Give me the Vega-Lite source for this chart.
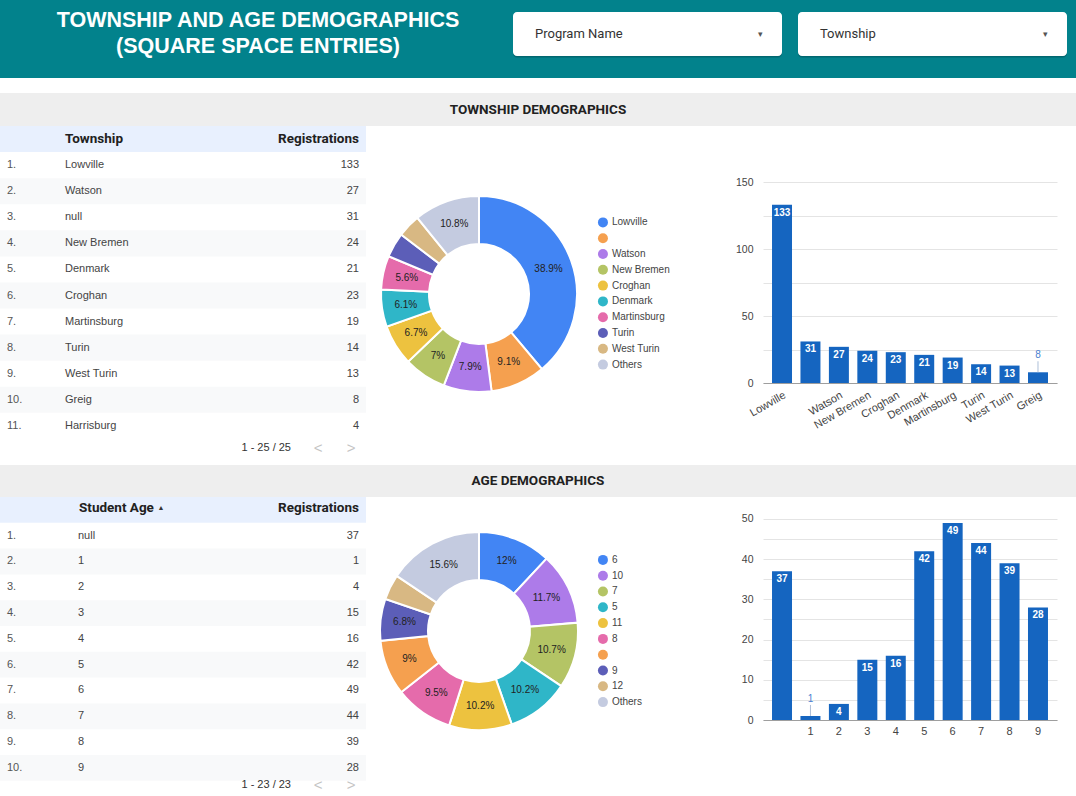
{
  "$schema": "https://vega.github.io/schema/vega-lite/v6.json",
  "padding": 0,
  "background": "white",
  "spacing": 15,
  "bounds": "full",
  "config": {
    "view": {"stroke": null},
    "font": "Liberation Sans",
    "axis": {"labelFont": "Liberation Sans", "labelColor": "#444444"}
  },
  "resolve": {"scale": {"color": "independent", "theta": "independent"}},
  "datasets": {
    "townTable": [
      {"rank": 1, "no": "1.", "Township": "Lowville", "Registrations": 133},
      {"rank": 2, "no": "2.", "Township": "Watson", "Registrations": 27},
      {"rank": 3, "no": "3.", "Township": "null", "Registrations": 31},
      {"rank": 4, "no": "4.", "Township": "New Bremen", "Registrations": 24},
      {"rank": 5, "no": "5.", "Township": "Denmark", "Registrations": 21},
      {"rank": 6, "no": "6.", "Township": "Croghan", "Registrations": 23},
      {"rank": 7, "no": "7.", "Township": "Martinsburg", "Registrations": 19},
      {"rank": 8, "no": "8.", "Township": "Turin", "Registrations": 14},
      {"rank": 9, "no": "9.", "Township": "West Turin", "Registrations": 13},
      {"rank": 10, "no": "10.", "Township": "Greig", "Registrations": 8},
      {"rank": 11, "no": "11.", "Township": "Harrisburg", "Registrations": 4}
    ],
    "townDonut": [
      {"ord": 1, "Township": "Lowville", "Registrations": 133, "share": "38.9%"},
      {"ord": 2, "Township": "", "Registrations": 31, "share": "9.1%"},
      {"ord": 3, "Township": "Watson", "Registrations": 27, "share": "7.9%"},
      {"ord": 4, "Township": "New Bremen", "Registrations": 24, "share": "7%"},
      {"ord": 5, "Township": "Croghan", "Registrations": 23, "share": "6.7%"},
      {"ord": 6, "Township": "Denmark", "Registrations": 21, "share": "6.1%"},
      {"ord": 7, "Township": "Martinsburg", "Registrations": 19, "share": "5.6%"},
      {"ord": 8, "Township": "Turin", "Registrations": 14, "share": ""},
      {"ord": 9, "Township": "West Turin", "Registrations": 13, "share": ""},
      {"ord": 10, "Township": "Others", "Registrations": 37, "share": "10.8%"}
    ],
    "townBars": [
      {"Township": "Lowville", "Registrations": 133},
      {"Township": "", "Registrations": 31},
      {"Township": "Watson", "Registrations": 27},
      {"Township": "New Bremen", "Registrations": 24},
      {"Township": "Croghan", "Registrations": 23},
      {"Township": "Denmark", "Registrations": 21},
      {"Township": "Martinsburg", "Registrations": 19},
      {"Township": "Turin", "Registrations": 14},
      {"Township": "West Turin", "Registrations": 13},
      {"Township": "Greig", "Registrations": 8}
    ],
    "ageTable": [
      {"rank": 1, "no": "1.", "Age": "null", "Registrations": 37},
      {"rank": 2, "no": "2.", "Age": "1", "Registrations": 1},
      {"rank": 3, "no": "3.", "Age": "2", "Registrations": 4},
      {"rank": 4, "no": "4.", "Age": "3", "Registrations": 15},
      {"rank": 5, "no": "5.", "Age": "4", "Registrations": 16},
      {"rank": 6, "no": "6.", "Age": "5", "Registrations": 42},
      {"rank": 7, "no": "7.", "Age": "6", "Registrations": 49},
      {"rank": 8, "no": "8.", "Age": "7", "Registrations": 44},
      {"rank": 9, "no": "9.", "Age": "8", "Registrations": 39},
      {"rank": 10, "no": "10.", "Age": "9", "Registrations": 28}
    ],
    "ageDonut": [
      {"ord": 1, "Age": "6", "Registrations": 49, "share": "12%"},
      {"ord": 2, "Age": "10", "Registrations": 48, "share": "11.7%"},
      {"ord": 3, "Age": "7", "Registrations": 44, "share": "10.7%"},
      {"ord": 4, "Age": "5", "Registrations": 42, "share": "10.2%"},
      {"ord": 5, "Age": "11", "Registrations": 42, "share": "10.2%"},
      {"ord": 6, "Age": "8", "Registrations": 39, "share": "9.5%"},
      {"ord": 7, "Age": "", "Registrations": 37, "share": "9%"},
      {"ord": 8, "Age": "9", "Registrations": 28, "share": "6.8%"},
      {"ord": 9, "Age": "12", "Registrations": 17, "share": ""},
      {"ord": 10, "Age": "Others", "Registrations": 64, "share": "15.6%"}
    ],
    "ageBars": [
      {"Age": "", "Registrations": 37},
      {"Age": "1", "Registrations": 1},
      {"Age": "2", "Registrations": 4},
      {"Age": "3", "Registrations": 15},
      {"Age": "4", "Registrations": 16},
      {"Age": "5", "Registrations": 42},
      {"Age": "6", "Registrations": 49},
      {"Age": "7", "Registrations": 44},
      {"Age": "8", "Registrations": 39},
      {"Age": "9", "Registrations": 28}
    ],
    "header": [
      {"title": ["TOWNSHIP AND AGE DEMOGRAPHICS", "(SQUARE SPACE ENTRIES)"]}
    ],
    "filters": [
      {"filter": "Program Name", "kind": "dropdown"},
      {"filter": "Township", "kind": "dropdown"}
    ]
  },
  "vconcat": [
    {
      "hconcat": [
        {
          "width": 510,
          "height": 78,
          "view": {"fill": "#02828c", "stroke": null},
          "data": {"name": "header"},
          "mark": {"type": "text", "font": "Liberation Sans", "fontWeight": "bold", "fontSize": 21.5, "lineHeight": 26, "color": "white", "align": "center", "baseline": "middle", "dx": 3, "dy": -18},
          "encoding": {"text": {"field": "title"}}
        },
        {
          "width": 566,
          "height": 78,
          "view": {"fill": "#02828c", "stroke": null},
          "data": {"name": "filters"},
          "encoding": {
            "x": {"field": "filter", "type": "nominal", "sort": null, "scale": {"type": "band", "paddingInner": 0.0561, "paddingOuter": 0.02105, "align": 0.25}, "axis": null},
            "y": {"field": "kind", "type": "nominal", "scale": {"type": "band", "paddingInner": 0, "paddingOuter": 0.3864, "align": 0.353}, "axis": null}
          },
          "layer": [
            {"mark": {"type": "rect", "fill": "#00363b", "opacity": 0.35, "cornerRadius": 4, "yOffset": 1.5}},
            {"mark": {"type": "rect", "fill": "white", "cornerRadius": 4}},
            {
              "mark": {"type": "text", "align": "left", "baseline": "middle", "dx": 22, "font": "Roboto", "fontSize": 13, "color": "#333333"},
              "encoding": {
                "x": {"field": "filter", "type": "nominal", "sort": null, "bandPosition": 0, "axis": null},
                "text": {"field": "filter"}
              }
            },
            {
              "mark": {"type": "text", "align": "center", "baseline": "middle", "dx": -22, "fontSize": 9, "color": "#555555"},
              "encoding": {
                "x": {"field": "filter", "type": "nominal", "sort": null, "bandPosition": 1, "axis": null},
                "text": {"value": "▾"}
              }
            }
          ]
        }
      ],
      "spacing": 0,
      "bounds": "flush"
    },
    {
      "spacing": 0,
      "bounds": "full",
      "resolve": {"scale": {"color": "independent", "theta": "independent"}},
      "vconcat": [
        {
          "width": 1076,
          "height": 33,
          "view": {"fill": "#eeeeee", "stroke": null},
          "data": {"values": [{"section": "TOWNSHIP DEMOGRAPHICS"}]},
          "mark": {"type": "text", "font": "Roboto", "fontWeight": "bold", "fontSize": 13.5, "color": "#212121", "baseline": "middle"},
          "encoding": {"text": {"field": "section"}}
        },
        {
          "hconcat": [
            {
              "width": 366,
              "height": 339,
              "data": {"name": "townTable"},
              "encoding": {
                "y": {"field": "no", "type": "ordinal", "scale": {"type": "band", "domain": ["hdr", "1.", "2.", "3.", "4.", "5.", "6.", "7.", "8.", "9.", "10.", "11.", "pager"], "paddingInner": 0, "paddingOuter": 0}, "axis": null}
              },
              "layer": [
                {
                  "transform": [{"aggregate": [{"op": "count", "as": "n"}]}],
                  "mark": {"type": "rect", "fill": "#e8f0fe"},
                  "encoding": {"y": {"datum": "hdr", "type": "ordinal", "axis": null}}
                },
                {
                  "transform": [{"filter": "datum.rank % 2 === 0"}],
                  "mark": {"type": "rect", "fill": "#f8f9fa"}
                },
                {
                  "mark": {"type": "text", "align": "left", "baseline": "middle", "dx": 7, "fontSize": 11, "color": "#555555"},
                  "encoding": {
                    "x": {"datum": "L", "type": "nominal", "scale": {"type": "point", "domain": ["L", "R"], "padding": 0}, "axis": null},
                    "text": {"field": "no"}
                  }
                },
                {
                  "mark": {"type": "text", "align": "left", "baseline": "middle", "dx": 65, "fontSize": 11, "color": "#444444"},
                  "encoding": {
                    "x": {"datum": "L", "type": "nominal", "scale": {"type": "point", "domain": ["L", "R"], "padding": 0}, "axis": null},
                    "text": {"field": "Township"}
                  }
                },
                {
                  "mark": {"type": "text", "align": "right", "baseline": "middle", "dx": -7, "fontSize": 11, "color": "#444444"},
                  "encoding": {
                    "x": {"datum": "R", "type": "nominal", "scale": {"type": "point", "domain": ["L", "R"], "padding": 0}, "axis": null},
                    "text": {"field": "Registrations", "type": "quantitative"}
                  }
                },
                {
                  "transform": [{"aggregate": [{"op": "count", "as": "n"}]}],
                  "mark": {"type": "text", "align": "left", "baseline": "middle", "dx": 65, "font": "Roboto", "fontWeight": "bold", "fontSize": 13.5, "color": "#212121"},
                  "encoding": {
                    "x": {"datum": "L", "type": "nominal", "scale": {"type": "point", "domain": ["L", "R"], "padding": 0}, "axis": null},
                    "y": {"datum": "hdr", "type": "ordinal", "axis": null},
                    "text": {"value": "Township"}
                  }
                },
                {
                  "transform": [{"aggregate": [{"op": "count", "as": "n"}]}],
                  "mark": {"type": "text", "align": "right", "baseline": "middle", "dx": -7, "font": "Roboto", "fontWeight": "bold", "fontSize": 13.5, "color": "#212121"},
                  "encoding": {
                    "x": {"datum": "R", "type": "nominal", "scale": {"type": "point", "domain": ["L", "R"], "padding": 0}, "axis": null},
                    "y": {"datum": "hdr", "type": "ordinal", "axis": null},
                    "text": {"value": "Registrations"}
                  }
                },
                {
                  "transform": [{"aggregate": [{"op": "count", "as": "n"}]}],
                  "mark": {"type": "text", "align": "right", "baseline": "middle", "dx": -75, "dy": -4, "fontSize": 11, "color": "#333333"},
                  "encoding": {
                    "x": {"datum": "R", "type": "nominal", "scale": {"type": "point", "domain": ["L", "R"], "padding": 0}, "axis": null},
                    "y": {"datum": "pager", "type": "ordinal", "axis": null},
                    "text": {"value": "1 - 25 / 25"}
                  }
                },
                {
                  "transform": [{"aggregate": [{"op": "count", "as": "n"}]}],
                  "mark": {"type": "text", "align": "center", "baseline": "middle", "dx": -48, "dy": -4, "fontSize": 15, "color": "#c4c4c4"},
                  "encoding": {
                    "x": {"datum": "R", "type": "nominal", "scale": {"type": "point", "domain": ["L", "R"], "padding": 0}, "axis": null},
                    "y": {"datum": "pager", "type": "ordinal", "axis": null},
                    "text": {"value": "<"}
                  }
                },
                {
                  "transform": [{"aggregate": [{"op": "count", "as": "n"}]}],
                  "mark": {"type": "text", "align": "center", "baseline": "middle", "dx": -15, "dy": -4, "fontSize": 15, "color": "#c4c4c4"},
                  "encoding": {
                    "x": {"datum": "R", "type": "nominal", "scale": {"type": "point", "domain": ["L", "R"], "padding": 0}, "axis": null},
                    "y": {"datum": "pager", "type": "ordinal", "axis": null},
                    "text": {"value": ">"}
                  }
                }
              ]
            },
            {
              "width": 226,
              "height": 336,
              "data": {"name": "townDonut"},
              "encoding": {
                "theta": {"field": "Registrations", "type": "quantitative", "stack": true},
                "order": {"field": "ord", "type": "quantitative"}
              },
              "layer": [
                {
                  "mark": {"type": "arc", "innerRadius": 50, "outerRadius": 98, "stroke": "white", "strokeWidth": 2},
                  "encoding": {
                    "color": {"field": "Township", "type": "nominal", "scale": {"domain": ["Lowville", "", "Watson", "New Bremen", "Croghan", "Denmark", "Martinsburg", "Turin", "West Turin", "Others"], "range": ["#4285f4", "#f5a04f", "#ad7be9", "#b4c465", "#edc23f", "#2fb6c8", "#e56bab", "#5c5eb8", "#d8b883", "#c4cbe0"]}, "legend": null}
                  }
                },
                {
                  "mark": {"type": "text", "radius": 74, "fontSize": 10, "color": "#222222"},
                  "encoding": {"text": {"field": "share"}}
                }
              ]
            },
            {
              "width": 171,
              "height": 335,
              "data": {"name": "townDonut"},
              "encoding": {
                "x": {"datum": "sym", "type": "nominal", "scale": {"type": "point", "domain": ["sym"], "padding": 0, "align": 0.064}, "axis": null},
                "y": {"field": "ord", "type": "quantitative", "scale": {"domain": [-5.1, 16.1], "reverse": true, "nice": false, "zero": false}, "axis": null}
              },
              "layer": [
                {
                  "mark": {"type": "point", "filled": true, "shape": "circle", "size": 100, "opacity": 1},
                  "encoding": {
                    "color": {"field": "Township", "type": "nominal", "scale": {"domain": ["Lowville", "", "Watson", "New Bremen", "Croghan", "Denmark", "Martinsburg", "Turin", "West Turin", "Others"], "range": ["#4285f4", "#f5a04f", "#ad7be9", "#b4c465", "#edc23f", "#2fb6c8", "#e56bab", "#5c5eb8", "#d8b883", "#c4cbe0"]}, "legend": null}
                  }
                },
                {
                  "mark": {"type": "text", "align": "left", "baseline": "middle", "dx": 9, "fontSize": 10, "color": "#444444"},
                  "encoding": {"text": {"field": "Township"}}
                }
              ]
            },
            {
              "width": 294,
              "height": 257,
              "data": {"name": "townBars"},
              "encoding": {
                "x": {"field": "Township", "type": "nominal", "scale": {"type": "band", "domain": ["Lowville", "", "Watson", "New Bremen", "Croghan", "Denmark", "Martinsburg", "Turin", "West Turin", "Greig"], "paddingInner": 0.297, "paddingOuter": 0.317}, "axis": {"title": null, "labelAngle": -30, "labelAlign": "right", "labelBaseline": "top", "ticks": false, "domainColor": "#9e9e9e", "labelPadding": 6, "labelFontSize": 11, "labelOverlap": false}},
                "y": {"field": "Registrations", "type": "quantitative", "scale": {"domain": [0, 191.8], "nice": false}, "axis": {"title": null, "values": [0, 25, 50, 75, 100, 125, 150], "labelExpr": "datum.value % 50 === 0 ? datum.label : ''", "domain": false, "ticks": false, "gridColor": "#e4e4e4", "labelPadding": 10, "labelFontSize": 10.5, "labelOverlap": false}}
              },
              "layer": [
                {"mark": {"type": "bar", "color": "#1565c0"}},
                {
                  "transform": [{"filter": "datum.Registrations >= 10"}],
                  "mark": {"type": "text", "baseline": "top", "dy": 3, "color": "white", "fontWeight": "bold", "fontSize": 10},
                  "encoding": {"text": {"field": "Registrations", "type": "quantitative"}}
                },
                {
                  "transform": [{"filter": "datum.Registrations < 10"}],
                  "mark": {"type": "rule", "color": "#aebfd8", "y2Offset": -11},
                  "encoding": {"y2": {"field": "Registrations"}}
                },
                {
                  "transform": [{"filter": "datum.Registrations < 10"}],
                  "mark": {"type": "text", "baseline": "bottom", "dy": -12, "color": "#4a7fd0", "fontSize": 10},
                  "encoding": {"text": {"field": "Registrations", "type": "quantitative"}}
                }
              ]
            }
          ],
          "spacing": 0,
          "bounds": "flush",
          "resolve": {"scale": {"color": "independent", "theta": "independent"}}
        },
        {
          "width": 1076,
          "height": 32,
          "view": {"fill": "#eeeeee", "stroke": null},
          "data": {"values": [{"section": "AGE DEMOGRAPHICS"}]},
          "mark": {"type": "text", "font": "Roboto", "fontWeight": "bold", "fontSize": 13.5, "color": "#212121", "baseline": "middle"},
          "encoding": {"text": {"field": "section"}}
        },
        {
          "hconcat": [
            {
              "width": 366,
              "height": 299,
              "data": {"name": "ageTable"},
              "encoding": {
                "y": {"field": "no", "type": "ordinal", "scale": {"type": "band", "domain": ["hdr", "1.", "2.", "3.", "4.", "5.", "6.", "7.", "8.", "9.", "10."], "paddingInner": 0, "paddingOuter": 0.2946, "align": 0}, "axis": null}
              },
              "layer": [
                {
                  "transform": [{"aggregate": [{"op": "count", "as": "n"}]}],
                  "mark": {"type": "rect", "fill": "#e8f0fe"},
                  "encoding": {"y": {"datum": "hdr", "type": "ordinal", "axis": null}}
                },
                {
                  "transform": [{"filter": "datum.rank % 2 === 0"}],
                  "mark": {"type": "rect", "fill": "#f8f9fa"}
                },
                {
                  "mark": {"type": "text", "align": "left", "baseline": "middle", "dx": 7, "fontSize": 11, "color": "#555555"},
                  "encoding": {
                    "x": {"datum": "L", "type": "nominal", "scale": {"type": "point", "domain": ["L", "R"], "padding": 0}, "axis": null},
                    "text": {"field": "no"}
                  }
                },
                {
                  "mark": {"type": "text", "align": "left", "baseline": "middle", "dx": 78, "fontSize": 11, "color": "#444444"},
                  "encoding": {
                    "x": {"datum": "L", "type": "nominal", "scale": {"type": "point", "domain": ["L", "R"], "padding": 0}, "axis": null},
                    "text": {"field": "Age"}
                  }
                },
                {
                  "mark": {"type": "text", "align": "right", "baseline": "middle", "dx": -7, "fontSize": 11, "color": "#444444"},
                  "encoding": {
                    "x": {"datum": "R", "type": "nominal", "scale": {"type": "point", "domain": ["L", "R"], "padding": 0}, "axis": null},
                    "text": {"field": "Registrations", "type": "quantitative"}
                  }
                },
                {
                  "transform": [{"aggregate": [{"op": "count", "as": "n"}]}],
                  "mark": {"type": "text", "align": "left", "baseline": "middle", "dx": 79, "dy": -2, "font": "Roboto", "fontWeight": "bold", "fontSize": 13.5, "color": "#212121"},
                  "encoding": {
                    "x": {"datum": "L", "type": "nominal", "scale": {"type": "point", "domain": ["L", "R"], "padding": 0}, "axis": null},
                    "y": {"datum": "hdr", "type": "ordinal", "axis": null},
                    "text": {"value": "Student Age"}
                  }
                },
                {
                  "transform": [{"aggregate": [{"op": "count", "as": "n"}]}],
                  "mark": {"type": "text", "align": "center", "baseline": "middle", "dx": 161, "dy": -2, "fontSize": 7, "color": "#333333"},
                  "encoding": {
                    "x": {"datum": "L", "type": "nominal", "scale": {"type": "point", "domain": ["L", "R"], "padding": 0}, "axis": null},
                    "y": {"datum": "hdr", "type": "ordinal", "axis": null},
                    "text": {"value": "▲"}
                  }
                },
                {
                  "transform": [{"aggregate": [{"op": "count", "as": "n"}]}],
                  "mark": {"type": "text", "align": "right", "baseline": "middle", "dx": -7, "dy": -2, "font": "Roboto", "fontWeight": "bold", "fontSize": 13.5, "color": "#212121"},
                  "encoding": {
                    "x": {"datum": "R", "type": "nominal", "scale": {"type": "point", "domain": ["L", "R"], "padding": 0}, "axis": null},
                    "y": {"datum": "hdr", "type": "ordinal", "axis": null},
                    "text": {"value": "Registrations"}
                  }
                },
                {
                  "transform": [{"aggregate": [{"op": "count", "as": "n"}]}],
                  "mark": {"type": "text", "align": "right", "baseline": "middle", "dx": -75, "dy": 17, "fontSize": 11, "color": "#333333"},
                  "encoding": {
                    "x": {"datum": "R", "type": "nominal", "scale": {"type": "point", "domain": ["L", "R"], "padding": 0}, "axis": null},
                    "y": {"datum": "10.", "type": "ordinal", "axis": null},
                    "text": {"value": "1 - 23 / 23"}
                  }
                },
                {
                  "transform": [{"aggregate": [{"op": "count", "as": "n"}]}],
                  "mark": {"type": "text", "align": "center", "baseline": "middle", "dx": -48, "dy": 17, "fontSize": 15, "color": "#c4c4c4"},
                  "encoding": {
                    "x": {"datum": "R", "type": "nominal", "scale": {"type": "point", "domain": ["L", "R"], "padding": 0}, "axis": null},
                    "y": {"datum": "10.", "type": "ordinal", "axis": null},
                    "text": {"value": "<"}
                  }
                },
                {
                  "transform": [{"aggregate": [{"op": "count", "as": "n"}]}],
                  "mark": {"type": "text", "align": "center", "baseline": "middle", "dx": -15, "dy": 17, "fontSize": 15, "color": "#c4c4c4"},
                  "encoding": {
                    "x": {"datum": "R", "type": "nominal", "scale": {"type": "point", "domain": ["L", "R"], "padding": 0}, "axis": null},
                    "y": {"datum": "10.", "type": "ordinal", "axis": null},
                    "text": {"value": ">"}
                  }
                }
              ]
            },
            {
              "width": 226,
              "height": 268,
              "data": {"name": "ageDonut"},
              "encoding": {
                "theta": {"field": "Registrations", "type": "quantitative", "stack": true},
                "order": {"field": "ord", "type": "quantitative"}
              },
              "layer": [
                {
                  "mark": {"type": "arc", "innerRadius": 51, "outerRadius": 99, "stroke": "white", "strokeWidth": 2},
                  "encoding": {
                    "color": {"field": "Age", "type": "nominal", "scale": {"domain": ["6", "10", "7", "5", "11", "8", "", "9", "12", "Others"], "range": ["#4285f4", "#ad7be9", "#b4c465", "#2fb6c8", "#edc23f", "#e56bab", "#f5a04f", "#5c5eb8", "#d8b883", "#c4cbe0"]}, "legend": null}
                  }
                },
                {
                  "mark": {"type": "text", "radius": 75, "fontSize": 10, "color": "#222222"},
                  "encoding": {"text": {"field": "share"}}
                }
              ]
            },
            {
              "width": 171,
              "height": 268,
              "data": {"name": "ageDonut"},
              "encoding": {
                "x": {"datum": "sym", "type": "nominal", "scale": {"type": "point", "domain": ["sym"], "padding": 0, "align": 0.064}, "axis": null},
                "y": {"field": "ord", "type": "quantitative", "scale": {"domain": [-2.98, 13.98], "reverse": true, "nice": false, "zero": false}, "axis": null}
              },
              "layer": [
                {
                  "mark": {"type": "point", "filled": true, "shape": "circle", "size": 100, "opacity": 1},
                  "encoding": {
                    "color": {"field": "Age", "type": "nominal", "scale": {"domain": ["6", "10", "7", "5", "11", "8", "", "9", "12", "Others"], "range": ["#4285f4", "#ad7be9", "#b4c465", "#2fb6c8", "#edc23f", "#e56bab", "#f5a04f", "#5c5eb8", "#d8b883", "#c4cbe0"]}, "legend": null}
                  }
                },
                {
                  "mark": {"type": "text", "align": "left", "baseline": "middle", "dx": 9, "fontSize": 10, "color": "#444444"},
                  "encoding": {"text": {"field": "Age"}}
                }
              ]
            },
            {
              "width": 294,
              "height": 223,
              "data": {"name": "ageBars"},
              "encoding": {
                "x": {"field": "Age", "type": "nominal", "scale": {"type": "band", "domain": ["", "1", "2", "3", "4", "5", "6", "7", "8", "9"], "paddingInner": 0.297, "paddingOuter": 0.317}, "axis": {"title": null, "labelAngle": 0, "labelAlign": "center", "labelBaseline": "top", "ticks": false, "domainColor": "#9e9e9e", "labelPadding": 5, "labelFontSize": 11, "labelOverlap": false}},
                "y": {"field": "Registrations", "type": "quantitative", "scale": {"domain": [0, 55.47], "nice": false}, "axis": {"title": null, "values": [0, 5, 10, 15, 20, 25, 30, 35, 40, 45, 50], "labelExpr": "datum.value % 10 === 0 ? datum.label : ''", "domain": false, "ticks": false, "gridColor": "#e4e4e4", "labelPadding": 10, "labelFontSize": 10.5, "labelOverlap": false}}
              },
              "layer": [
                {"mark": {"type": "bar", "color": "#1565c0"}},
                {
                  "transform": [{"filter": "datum.Registrations >= 3"}],
                  "mark": {"type": "text", "baseline": "top", "dy": 3, "color": "white", "fontWeight": "bold", "fontSize": 10},
                  "encoding": {"text": {"field": "Registrations", "type": "quantitative"}}
                },
                {
                  "transform": [{"filter": "datum.Registrations < 3"}],
                  "mark": {"type": "rule", "color": "#aebfd8", "y2Offset": -11},
                  "encoding": {"y2": {"field": "Registrations"}}
                },
                {
                  "transform": [{"filter": "datum.Registrations < 3"}],
                  "mark": {"type": "text", "baseline": "bottom", "dy": -12, "color": "#4a7fd0", "fontSize": 10},
                  "encoding": {"text": {"field": "Registrations", "type": "quantitative"}}
                }
              ]
            }
          ],
          "spacing": 0,
          "bounds": "flush",
          "resolve": {"scale": {"color": "independent", "theta": "independent"}}
        }
      ]
    }
  ]
}
